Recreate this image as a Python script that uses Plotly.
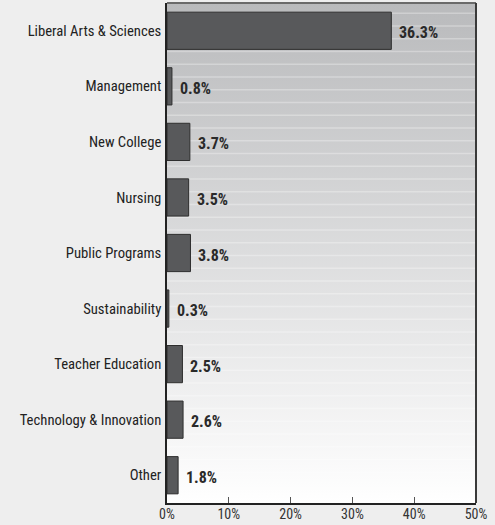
import plotly.graph_objects as go
import base64

categories = ["Liberal Arts & Sciences", "Management", "New College", "Nursing",
              "Public Programs", "Sustainability", "Teacher Education",
              "Technology & Innovation", "Other"]
values = [36.3, 0.8, 3.7, 3.5, 3.8, 0.3, 2.5, 2.6, 1.8]
tick_vals = [0, 10, 20, 30, 40, 50]
tick_text = ["0%", "10%", "20%", "30%", "40%", "50%"]

FONT = "Liberation Sans Narrow, Roboto Condensed, Arial Narrow, Liberation Sans, sans-serif"

# gradient background with faint stripes (SVG)
stripes = "".join(
    f'<rect x="0" y="{y}" width="100" height="0.3" fill="#ffffff" fill-opacity="0.3"/>'
    for y in [round(i * 2.55 + 1.9, 2) for i in range(40)]
)
svg = (
    '<svg xmlns="http://www.w3.org/2000/svg" width="100" height="100" preserveAspectRatio="none" viewBox="0 0 100 100">'
    '<defs><linearGradient id="g" x1="0" y1="0" x2="0" y2="1">'
    '<stop offset="0" stop-color="#b9babc"/><stop offset="1" stop-color="#ffffff"/>'
    '</linearGradient></defs>'
    '<rect x="0" y="0" width="100" height="100" fill="url(#g)"/>' + stripes + '</svg>'
)
src = "data:image/svg+xml;base64," + base64.b64encode(svg.encode()).decode()

fig = go.Figure()
fig.add_trace(go.Bar(
    x=values, y=categories, orientation="h",
    marker=dict(color="#58595b", line=dict(color="#2e2e2e", width=1)),
    hoverinfo="skip",
))

for c, v in zip(categories, values):
    fig.add_annotation(x=v, y=c, text=f"<b>{v}%</b>", showarrow=False,
                       xanchor="left", yanchor="middle", xshift=6, yshift=-2,
                       font=dict(family=FONT, size=16, color="#2a2a2a"))

fig.add_layout_image(dict(source=src, xref="paper", yref="paper", x=0, y=1,
                          sizex=1, sizey=1, sizing="stretch", layer="below",
                          xanchor="left", yanchor="top"))

fig.add_shape(type="line", xref="paper", yref="paper", x0=0, x1=1, y0=1, y1=1,
              line=dict(color="#6a6a6a", width=2))
fig.add_shape(type="line", xref="paper", yref="paper", x0=1, x1=1, y0=0, y1=1,
              line=dict(color="#3a3a3a", width=2))

fig.update_layout(
    width=495, height=525,
    margin=dict(l=167, r=19, t=3, b=22, autoexpand=False),
    paper_bgcolor="#eeeeee",
    plot_bgcolor="rgba(0,0,0,0)",
    bargap=0.33,
    showlegend=False,
    font=dict(family=FONT, size=15, color="#222222"),
    xaxis=dict(range=[0, 50], tickvals=tick_vals, ticktext=tick_text,
               ticks="inside", ticklen=6, tickcolor="#555555", tickwidth=1,
               showgrid=False, zeroline=False, showline=True,
               linecolor="#222222", linewidth=1.5, automargin=False,
               ticklabelstandoff=-3,
               tickfont=dict(family=FONT, size=14, color="#333333")),
    yaxis=dict(autorange="reversed", showgrid=False, zeroline=False,
               showline=True, linecolor="#222222", linewidth=1.5,
               ticks="", ticklabelstandoff=1, automargin=False,
               tickfont=dict(family=FONT, size=14.7, color="#222222")),
)

fig.write_html("out.html", config={"displayModeBar": False},
               post_script="document.body.style.margin='0';document.body.style.background='#eeeeee';document.body.style.overflow='hidden';")
